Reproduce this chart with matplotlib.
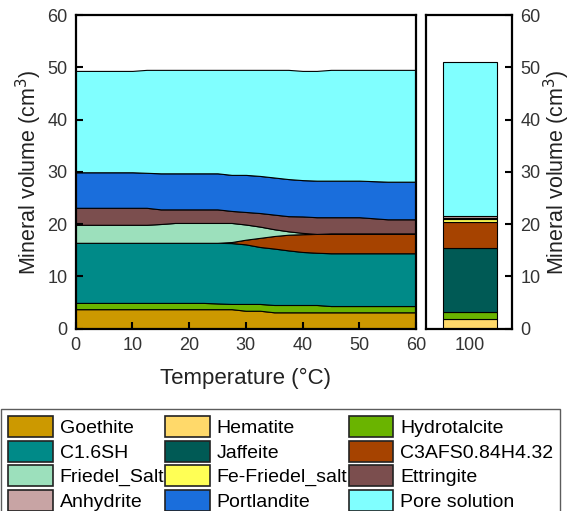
import matplotlib
matplotlib.use("Agg")
import matplotlib.pyplot as plt
from matplotlib.patches import Patch

plt.rcParams['font.family'] = ['Liberation Sans', 'DejaVu Sans']

# Temperature series (°C)
temperature = [0, 2.5, 5, 7.5, 10, 12.5, 15, 17.5, 20, 22.5, 25, 27.5, 30,
               32.5, 35, 37.5, 40, 42.5, 45, 47.5, 50, 52.5, 55, 57.5, 60]

# Mineral volumes (cm3) at each temperature
goethite = [3.7, 3.7, 3.7, 3.7, 3.7, 3.7, 3.7, 3.7, 3.7, 3.7, 3.7, 3.7, 3.4,
            3.4, 3.1, 3.1, 3.1, 3.1, 3.1, 3.1, 3.1, 3.1, 3.1, 3.1, 3.1]
hydrotalcite = [1.2, 1.2, 1.2, 1.2, 1.2, 1.2, 1.2, 1.2, 1.2, 1.2, 1.1, 1.0, 1.3,
                1.3, 1.4, 1.4, 1.4, 1.4, 1.2, 1.2, 1.2, 1.2, 1.2, 1.2, 1.2]
c16sh = [11.5, 11.5, 11.5, 11.5, 11.5, 11.5, 11.5, 11.5, 11.5, 11.5, 11.6, 11.65, 11.4,
         10.9, 10.8, 10.45, 10.15, 10.0, 10.1, 10.1, 10.1, 10.1, 10.1, 10.1, 10.1]
c3afs = [0, 0, 0, 0, 0, 0, 0, 0, 0, 0, 0, 0.2, 0.9,
         1.75, 2.4, 3.0, 3.4, 3.6, 3.8, 3.8, 3.8, 3.8, 3.8, 3.8, 3.8]
friedel = [3.45, 3.45, 3.45, 3.45, 3.45, 3.45, 3.6, 3.8, 3.8, 3.8, 3.8, 3.65, 2.9,
           2.15, 1.3, 0.65, 0.25, 0, 0, 0, 0, 0, 0, 0, 0]
ettringite = [3.25, 3.25, 3.25, 3.25, 3.25, 3.25, 2.8, 2.6, 2.6, 2.6, 2.6, 2.3, 2.4,
              2.6, 2.8, 2.9, 3.15, 3.2, 3.1, 3.1, 3.1, 2.9, 2.7, 2.7, 2.7]
portlandite = [6.8, 6.8, 6.8, 6.8, 6.8, 6.7, 6.9, 6.9, 6.9, 6.9, 6.9, 6.9, 7.1,
               7.1, 7.1, 7.1, 6.95, 7.0, 7.0, 7.0, 7.0, 7.1, 7.2, 7.2, 7.2]
pore_solution = [19.4, 19.4, 19.4, 19.4, 19.4, 19.7, 19.8, 19.8, 19.8, 19.8, 19.8, 20.1, 20.1,
                 20.3, 20.6, 20.9, 20.9, 21.0, 21.2, 21.2, 21.2, 21.3, 21.4, 21.4, 21.4]

# Single composition shown at 100 °C
bar_label = "100"
bar_minerals = ["Hematite", "Hydrotalcite", "Jaffeite", "C3AFS0.84H4.32",
                "Fe-Friedel_salt", "Ettringite", "Anhydrite", "Pore solution"]
bar_volumes = [1.9, 1.3, 12.3, 4.95, 0.45, 0.2, 0.45, 29.55]

# Legend / stacking order and colours
minerals = ["Goethite", "Hematite", "Hydrotalcite", "C1.6SH", "Jaffeite",
            "C3AFS0.84H4.32", "Friedel_Salt", "Fe-Friedel_salt", "Ettringite",
            "Anhydrite", "Portlandite", "Pore solution"]
colors = ["#CC9900", "#FFD96A", "#6AB400", "#008A88", "#005A55",
          "#A64300", "#9CE0BC", "#FFFF55", "#7B4E4E",
          "#C8A4A4", "#1A6EDC", "#80FFFF"]
color_of = dict(zip(minerals, colors))

series_left = {
    "Goethite": goethite,
    "Hydrotalcite": hydrotalcite,
    "C1.6SH": c16sh,
    "C3AFS0.84H4.32": c3afs,
    "Friedel_Salt": friedel,
    "Ettringite": ettringite,
    "Portlandite": portlandite,
    "Pore solution": pore_solution,
}

W, H = 573, 511
fig = plt.figure(figsize=(W / 100, H / 100), dpi=100)

ax_top, ax_bot = 15, 328.5
ax1 = fig.add_axes([75.7 / W, 1 - ax_bot / H, (416 - 75.7) / W, (ax_bot - ax_top) / H])
ax2 = fig.add_axes([426 / W, 1 - ax_bot / H, (512 - 426) / W, (ax_bot - ax_top) / H])

tick_fs = 13
label_fs = 15.5

# Temperature panel
names = list(series_left.keys())
ax1.stackplot(temperature, *[series_left[n] for n in names],
              colors=[color_of[n] for n in names],
              edgecolor="black", linewidth=0.8)
ax1.set_xlim(0, 60)
ax1.set_ylim(0, 60)
ax1.set_xticks([0, 10, 20, 30, 40, 50, 60])
ax1.set_yticks([0, 10, 20, 30, 40, 50, 60])
ax1.tick_params(direction="in", length=5, width=1.5, labelsize=tick_fs,
                top=False, right=False, pad=6, colors="black", labelcolor="#333333")
ax1.set_xlabel("Temperature (°C)", fontsize=label_fs + 0.5, color="#222222", labelpad=10)
ax1.set_ylabel("Mineral volume (cm$^3$)", fontsize=label_fs, color="#222222", labelpad=2)

# 100 °C bar
bottom = 0
for name, vol in zip(bar_minerals, bar_volumes):
    ax2.bar(0, vol, bottom=bottom, width=0.62, color=color_of[name],
            edgecolor="black", linewidth=0.8)
    bottom += vol
ax2.set_xlim(-0.51, 0.49)
ax2.set_ylim(0, 60)
ax2.set_xticks([0])
ax2.set_xticklabels([bar_label])
ax2.set_yticks([0, 10, 20, 30, 40, 50, 60])
ax2.yaxis.tick_right()
ax2.yaxis.set_label_position("right")
ax2.tick_params(axis="y", direction="in", length=5, width=1.5, labelsize=tick_fs,
                left=False, right=True, pad=6, labelcolor="#333333")
ax2.tick_params(axis="x", length=0, labelsize=tick_fs, pad=6, labelcolor="#333333")
ax2.set_ylabel("Mineral volume (cm$^3$)", fontsize=label_fs, color="#222222", labelpad=1)

for ax in (ax1, ax2):
    for sp in ax.spines.values():
        sp.set_linewidth(1.6)
        sp.set_color("black")

# Legend laid out row by row across three columns
ncol = 3
order = [i for c in range(ncol) for i in range(c, len(minerals), ncol)]
handles = [Patch(facecolor=colors[i], edgecolor="#222222", linewidth=1.2) for i in order]
labels = [minerals[i] for i in order]
leg = fig.legend(handles, labels, ncol=ncol, loc="upper left",
                 bbox_to_anchor=(1 / W, 1 - 409 / H), fontsize=14,
                 frameon=True, fancybox=False, edgecolor="#333333",
                 handlelength=2.3, handleheight=1.3, handletextpad=0.36,
                 labelspacing=0.18, columnspacing=0.05, borderpad=0.35,
                 borderaxespad=0)
leg.get_frame().set_linewidth(1.0)

fig.savefig("out.png", dpi=100)
